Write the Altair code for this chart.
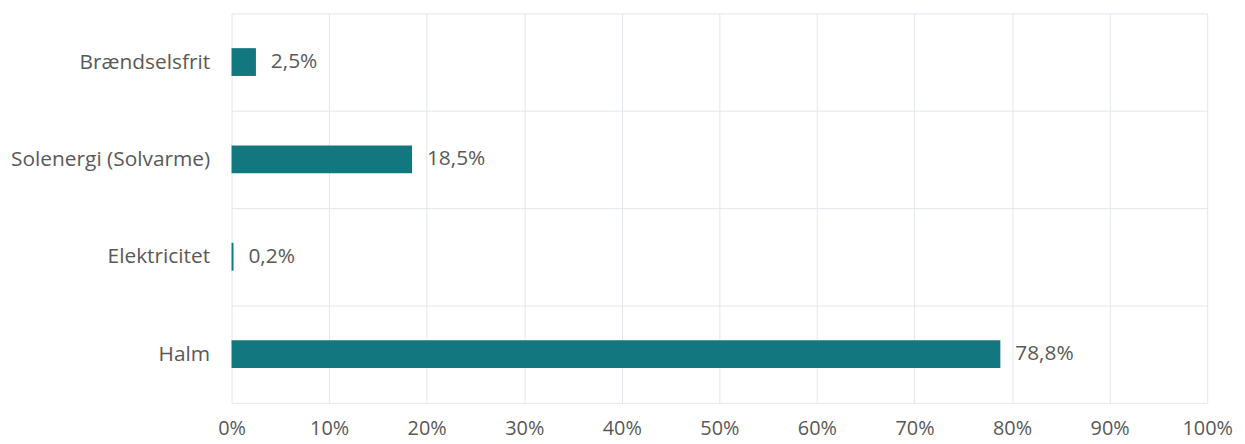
import altair as alt
import pandas as pd

categories = ["Brændselsfrit", "Solenergi (Solvarme)", "Elektricitet", "Halm"]
values = [2.5, 18.5, 0.2, 78.8]
x_ticks = [0, 10, 20, 30, 40, 50, 60, 70, 80, 90, 100]

df = pd.DataFrame({
    "cat": categories,
    "val": values,
    "lab": [f"{v:.1f}%".replace(".", ",") for v in values],
})

FONT = "Open Sans"
TXT = "#595959"
BAR = "#12777f"
GRID = "#e2e6ec"

base = alt.Chart(df).encode(
    y=alt.Y("cat:N", sort=categories, title=None,
            scale=alt.Scale(paddingInner=0, paddingOuter=0),
            axis=alt.Axis(tickBand="extent", grid=True, gridColor=GRID,
                          domain=False, ticks=False, labelPadding=22,
                          labelFont=FONT, labelFontSize=21, labelColor=TXT,
                          labelLimit=300)),
    x=alt.X("val:Q", title=None,
            scale=alt.Scale(domain=[0, 100], nice=False),
            axis=alt.Axis(values=x_ticks, labelExpr="datum.value + '%'",
                          grid=True, gridColor=GRID, domain=False, ticks=False,
                          labelPadding=16, labelFont=FONT, labelFontSize=20,
                          labelColor=TXT, labelFlush=False)),
)

bars = base.mark_bar(size=28, color=BAR)
text = base.mark_text(align="left", dx=15, font=FONT, fontSize=21, color=TXT).encode(text="lab:N")

chart = (bars + text).properties(
    width=982, height=392,
    autosize=alt.AutoSizeParams(type="none"),
    padding={"left": 225, "top": 4, "right": 30, "bottom": 38},
    background="white",
).configure_view(stroke=None)

chart.save("out.html", embed_options={"renderer": "svg", "actions": False})
